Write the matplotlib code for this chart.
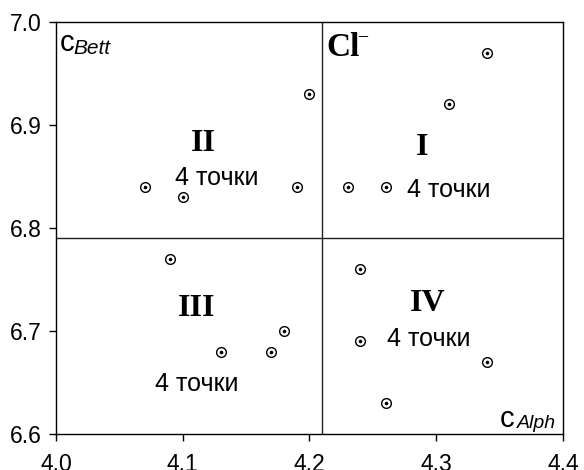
import matplotlib
matplotlib.use("Agg")
import matplotlib.pyplot as plt

# Data
x_I = [4.23, 4.26, 4.31, 4.34]
y_I = [6.84, 6.84, 6.92, 6.97]
x_II = [4.07, 4.10, 4.19, 4.20]
y_II = [6.84, 6.83, 6.84, 6.93]
x_III = [4.09, 4.13, 4.17, 4.18]
y_III = [6.77, 6.68, 6.68, 6.70]
x_IV = [4.24, 4.24, 4.26, 4.34]
y_IV = [6.76, 6.69, 6.63, 6.67]

x_split = 4.21
y_split = 6.79

x_ticks = [4.0, 4.1, 4.2, 4.3, 4.4]
y_ticks = [6.6, 6.7, 6.8, 6.9, 7.0]
x_labels = ["4.0", "4.1", "4.2", "4.3", "4.4"]
y_labels = ["6.6", "6.7", "6.8", "6.9", "7.0"]

sans = "Liberation Sans"
serif = "Liberation Serif"

fig = plt.figure(figsize=(5.84, 4.70), dpi=100)
ax = fig.add_axes([0.0959, 0.0766, 0.964 - 0.0959, 0.9532 - 0.0766])

ax.set_xlim(4.0, 4.4)
ax.set_ylim(6.6, 7.0)

ax.axvline(x_split, color="#222222", lw=1.0)
ax.axhline(y_split, color="#222222", lw=1.0)

xs = x_I + x_II + x_III + x_IV
ys = y_I + y_II + y_III + y_IV
ax.plot(xs, ys, ls="none", marker="o", ms=7, mfc="white", mec="black", mew=1.0, zorder=3)
ax.plot(xs, ys, ls="none", marker="o", ms=2.6, mfc="black", mec="black", mew=0, zorder=4)

ax.set_xticks(x_ticks)
ax.set_xticklabels(x_labels, fontfamily=sans, fontsize=16.5)
ax.set_yticks(y_ticks)
ax.set_yticklabels(y_labels, fontfamily=sans, fontsize=16.5)
ax.tick_params(direction="out", length=5, width=1, color="black")
ax.tick_params(axis="x", pad=9)
ax.tick_params(axis="y", pad=5)
for s in ax.spines.values():
    s.set_linewidth(1.0)
    s.set_color("black")

roman = dict(fontfamily=serif, fontweight="bold", fontsize=23, ha="center", va="center")
pts = dict(fontfamily=sans, fontsize=18, ha="center", va="center")

ax.text(4.116, 6.882, "II", **roman)
ax.text(4.127, 6.849, "4 точки", **pts)
ax.text(4.289, 6.878, "I", **roman)
ax.text(4.310, 6.837, "4 точки", **pts)
ax.text(4.111, 6.722, "III", **roman)
ax.text(4.111, 6.649, "4 точки", **pts)
ax.text(4.293, 6.727, "IV", **roman)
ax.text(4.294, 6.692, "4 точки", **pts)

ax.text(4.2134, 6.975, "Cl", fontfamily=serif, fontweight="bold", fontsize=24,
        ha="left", va="center")
ax.text(4.2385, 6.9858, "\u2013", fontfamily=serif, fontweight="bold", fontsize=13,
        ha="left", va="center")

ax.text(4.0031, 6.9718, "c", fontfamily=sans, fontsize=21, ha="left", va="baseline")
ax.text(4.0134, 6.969, "Bett", fontfamily=sans, fontstyle="italic", fontsize=15,
        ha="left", va="baseline")

ax.text(4.3505, 6.6068, "c", fontfamily=sans, fontsize=21, ha="left", va="baseline")
ax.text(4.3945, 6.6058, "Alph", fontfamily=sans, fontstyle="italic", fontsize=14,
        ha="right", va="baseline")

fig.savefig("out.png", dpi=100)
